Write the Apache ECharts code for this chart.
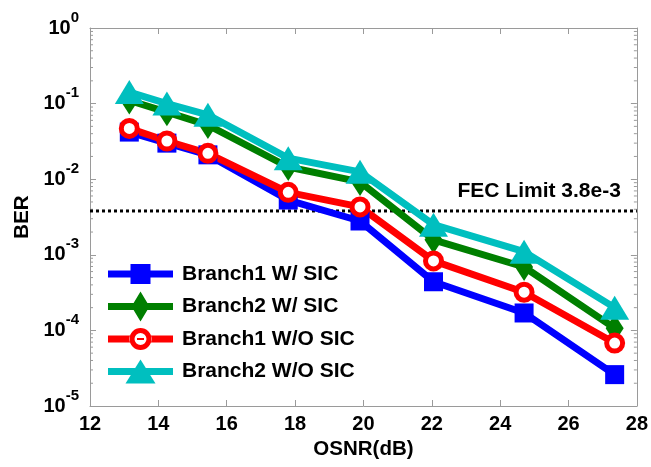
<!DOCTYPE html>
<html><head><meta charset="utf-8">
<script src="https://cdn.jsdelivr.net/npm/echarts@6/dist/echarts.min.js"></script>
<style>html,body{margin:0;padding:0;background:#fff}#c{width:651px;height:467px}</style>
</head><body><div id="c"></div>
<script>
const osnr = [13.15, 14.25, 15.45, 17.8, 19.9, 22.05, 24.7, 27.35];
const branch1WithSIC = [0.042, 0.030, 0.021, 0.0053, 0.0028, 4.4e-4, 1.7e-4, 2.6e-5];
const branch2WithSIC = [0.11, 0.077, 0.052, 0.0145, 0.0092, 1.58e-3, 6.9e-4, 1.07e-4];
const branch1WithoutSIC = [0.047, 0.032, 0.022, 0.0067, 0.0043, 8.3e-4, 3.2e-4, 6.8e-5];
const branch2WithoutSIC = [0.142, 0.10, 0.071, 0.019, 0.0125, 2.5e-3, 1.1e-3, 2.0e-4];
const seriesNames = ['Branch1 W/ SIC', 'Branch2 W/ SIC', 'Branch1 W/O SIC', 'Branch2 W/O SIC'];
const fecLimit = 3.8e-3;
const fecLabel = 'FEC Limit 3.8e-3';
const xTicks = [12, 14, 16, 18, 20, 22, 24, 26, 28];
const yDecades = [-5, -4, -3, -2, -1, 0];

const FONT = '"Liberation Sans", Arial, sans-serif';
const AX = '#9a9a9a';
const minorVals = [];
for (let k = yDecades[0]; k < yDecades[yDecades.length - 1]; k++) {
  for (let m = 2; m <= 9; m++) minorVals.push(m * Math.pow(10, k));
}
const xMin = xTicks[0], xMax = xTicks[xTicks.length - 1];
const yMin = Math.pow(10, yDecades[0]), yMax = Math.pow(10, yDecades[yDecades.length - 1]);

const anchors = 'M0 0 L0.1 0 L0 0.1 Z M65 30 L64.9 30 L65 29.9 Z ';
const lineRect = 'M0 11.5 L65 11.5 L65 18.5 L0 18.5 Z ';
const icons = [
  'path://' + anchors + lineRect + 'M22.5 5 L42.5 5 L42.5 25 L22.5 25 Z',
  'path://' + anchors + lineRect + 'M32.5 0 L41.5 15 L32.5 30 L23.5 15 Z',
  'path://' + anchors + 'M0 11.5 L22 11.5 L22 18.5 L0 18.5 Z M43 11.5 L65 11.5 L65 18.5 L43 18.5 Z M21.5 15 A11 11 0 1 0 43.5 15 A11 11 0 1 0 21.5 15 Z M26.5 15 A6 6 0 1 1 38.5 15 A6 6 0 1 1 26.5 15 Z M29 14 L36 14 L36 16 L29 16 Z',
  'path://' + anchors + lineRect + 'M32.5 3 L47.5 27 L17.5 27 Z'
];
const colors = ['#0000ff', '#007f00', '#ff0000', '#00bfbf'];

function pairs(ys) { return osnr.map((x, i) => [x, ys[i]]); }

const chart = echarts.init(document.getElementById('c'), null, {renderer: 'canvas'});
const yLabelRich = {
  b: {fontSize: 20, fontWeight: 'bold', fontFamily: FONT, color: '#000', lineHeight: 36, verticalAlign: 'middle'},
  s: {fontSize: 15, fontWeight: 'bold', fontFamily: FONT, color: '#000', lineHeight: 15, verticalAlign: 'top'}
};
const option = {
  animation: false,
  backgroundColor: '#fff',
  grid: {left: 90, top: 28, right: 13, bottom: 61, containLabel: false},
  legend: {
    orient: 'vertical', left: 108, top: 259, padding: 0, itemGap: 2.5,
    itemWidth: 65, itemHeight: 30,
    textStyle: {fontSize: 21, fontWeight: 'bold', fontFamily: FONT, color: '#000', padding: [0, 0, 0, 4]},
    data: seriesNames.map((n, i) => ({name: n, icon: icons[i], itemStyle: {color: colors[i], borderWidth: 0}}))
  },
  xAxis: [{
    type: 'value', min: xMin, max: xMax, interval: 2,
    name: 'OSNR(dB)', nameLocation: 'middle', nameGap: 33,
    nameTextStyle: {fontSize: 20.5, fontWeight: 'bold', fontFamily: FONT, color: '#000'},
    axisLine: {show: true, lineStyle: {color: AX, width: 1}},
    axisTick: {show: true, inside: true, length: 6, lineStyle: {color: AX}},
    axisLabel: {fontSize: 20, fontWeight: 'bold', fontFamily: FONT, color: '#000', margin: 8},
    splitLine: {show: false}
  }, {
    type: 'value', min: xMin, max: xMax, interval: 2, position: 'top',
    axisLine: {show: true, lineStyle: {color: AX, width: 1}},
    axisTick: {show: true, inside: true, length: 6, lineStyle: {color: AX}},
    axisLabel: {show: false}, splitLine: {show: false}
  }],
  yAxis: [{
    type: 'log', logBase: 10, min: yMin, max: yMax,
    name: 'BER', nameLocation: 'middle', nameGap: 54,
    nameTextStyle: {fontSize: 20.5, fontWeight: 'bold', fontFamily: FONT, color: '#000'},
    axisLine: {show: true, lineStyle: {color: AX, width: 1}},
    axisTick: {show: true, inside: true, length: 6, lineStyle: {color: AX}},
    axisLabel: {
      margin: 11, rich: yLabelRich,
      formatter: v => '{b|10}{s|' + Math.round(Math.log10(v)) + '}'
    },
    splitLine: {show: false}
  }, {
    type: 'log', logBase: 10, min: yMin, max: yMax, position: 'right',
    axisLine: {show: true, lineStyle: {color: AX, width: 1}},
    axisTick: {show: true, inside: true, length: 6, lineStyle: {color: AX}},
    axisLabel: {show: false}, splitLine: {show: false}
  }],
  series: [
    {
      type: 'custom', name: 'minorTicks', silent: true, z: 1,
      xAxisIndex: 0, yAxisIndex: 0,
      data: minorVals.map(v => [xMin, v]),
      renderItem: (params, api) => {
        const v = api.value(1);
        const p0 = api.coord([xMin, v]);
        const p1 = api.coord([xMax, v]);
        return {type: 'group', children: [
          {type: 'line', shape: {x1: p0[0], y1: p0[1], x2: p0[0] + 3, y2: p0[1]}, style: {stroke: AX, lineWidth: 1}},
          {type: 'line', shape: {x1: p1[0] - 3, y1: p1[1], x2: p1[0], y2: p1[1]}, style: {stroke: AX, lineWidth: 1}}
        ]};
      }
    },
    {
      type: 'line', name: 'FEC', silent: true, z: 2,
      symbol: 'none', showSymbol: false,
      lineStyle: {color: '#000', width: 3, type: [3, 3]},
      endLabel: {
        show: true, formatter: fecLabel, align: 'right', verticalAlign: 'bottom',
        distance: 0, offset: [-16, -9],
        fontSize: 21, fontWeight: 'bold', fontFamily: FONT, color: '#000'
      },
      data: [[xMin, fecLimit], [xMax, fecLimit]]
    },
    {
      type: 'line', name: seriesNames[0], data: pairs(branch1WithSIC), z: 3,
      symbol: 'rect', symbolSize: 19,
      lineStyle: {color: colors[0], width: 7}, itemStyle: {color: colors[0]}
    },
    {
      type: 'line', name: seriesNames[1], data: pairs(branch2WithSIC), z: 3,
      symbol: 'diamond', symbolSize: [18, 28],
      lineStyle: {color: colors[1], width: 7}, itemStyle: {color: colors[1]}
    },
    {
      type: 'line', name: seriesNames[2], data: pairs(branch1WithoutSIC), z: 3,
      symbol: 'circle', symbolSize: 16,
      lineStyle: {color: colors[2], width: 7}, itemStyle: {color: '#fff', borderColor: colors[2], borderWidth: 5}
    },
    {
      type: 'line', name: seriesNames[3], data: pairs(branch2WithoutSIC), z: 3,
      symbol: 'triangle', symbolSize: [29, 24],
      lineStyle: {color: colors[3], width: 7}, itemStyle: {color: colors[3]}
    }
  ]
};
chart.setOption(option);
</script>
</body></html>
